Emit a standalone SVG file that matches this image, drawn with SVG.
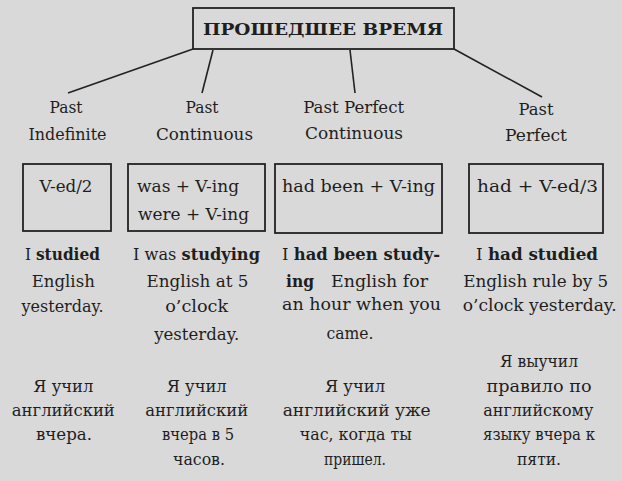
<svg xmlns="http://www.w3.org/2000/svg" width="622" height="481" viewBox="0 0 622 481" font-family="DejaVu Serif">
<style>
text{fill:#1e1e1e}
.t{font-size:17px;font-weight:bold}
.lbl{font-size:16.5px;text-anchor:middle}
.f{font-size:17px}
.b{font-size:17.5px;text-anchor:middle}
.bold{font-weight:bold}
.ru{font-size:16.5px;text-anchor:middle}
.box{fill:none;stroke:#222;stroke-width:1.8}
.con{stroke:#222;stroke-width:1.6;fill:none}
</style>
<rect width="622" height="481" fill="#d9d9d9"/>
<g id="connectors">
<line class="con" x1="193" y1="49" x2="68" y2="93"/>
<line class="con" x1="213" y1="50" x2="202" y2="93"/>
<line class="con" x1="350" y1="50" x2="355" y2="93"/>
<line class="con" x1="454" y1="49" x2="542" y2="97"/>
</g>
<g id="title" font-family="DejaVu Serif">
<rect class="box" x="193" y="8" width="261" height="41"/>
<text class="t" x="203" y="35" textLength="240" lengthAdjust="spacingAndGlyphs">ПРОШЕДШЕЕ  ВРЕМЯ</text>
</g>
<g id="past-indefinite" font-family="DejaVu Serif">
<text class="lbl" x="66" y="113" textLength="33" lengthAdjust="spacingAndGlyphs">Past</text>
<text class="lbl" x="67.5" y="140" textLength="78" lengthAdjust="spacingAndGlyphs">Indefinite</text>
<rect class="box" x="23" y="164" width="88" height="67"/>
<text class="f" x="66" y="192" text-anchor="middle" textLength="53" lengthAdjust="spacingAndGlyphs">V-ed/2</text>
<text class="b" x="62.5" y="260" textLength="75" lengthAdjust="spacingAndGlyphs">I <tspan class="bold">studied</tspan></text>
<text class="b" x="63.3" y="287" textLength="63" lengthAdjust="spacingAndGlyphs">English</text>
<text class="b" x="62.5" y="312" textLength="82" lengthAdjust="spacingAndGlyphs">yesterday.</text>
<text class="ru" x="63.3" y="392" textLength="60" lengthAdjust="spacingAndGlyphs">Я учил</text>
<text class="ru" x="63.3" y="416" textLength="103" lengthAdjust="spacingAndGlyphs">английский</text>
<text class="ru" x="64" y="440" textLength="56" lengthAdjust="spacingAndGlyphs">вчера.</text>
</g>
<g id="past-continuous" font-family="DejaVu Serif">
<text class="lbl" x="202" y="113" textLength="33" lengthAdjust="spacingAndGlyphs">Past</text>
<text class="lbl" x="204.5" y="140" textLength="97" lengthAdjust="spacingAndGlyphs">Continuous</text>
<rect class="box" x="128" y="164" width="137" height="67"/>
<text class="f" x="137" y="192" textLength="102" lengthAdjust="spacingAndGlyphs">was + V-ing</text>
<text class="f" x="138" y="220" textLength="111" lengthAdjust="spacingAndGlyphs">were + V-ing</text>
<text class="b" x="196.5" y="260" textLength="127" lengthAdjust="spacingAndGlyphs">I was <tspan class="bold">studying</tspan></text>
<text class="b" x="197.5" y="287" textLength="102" lengthAdjust="spacingAndGlyphs">English at 5</text>
<text class="b" x="196.7" y="312" textLength="63" lengthAdjust="spacingAndGlyphs">o’clock</text>
<text class="b" x="196.7" y="340" textLength="85" lengthAdjust="spacingAndGlyphs">yesterday.</text>
<text class="ru" x="196.7" y="392" textLength="60" lengthAdjust="spacingAndGlyphs">Я учил</text>
<text class="ru" x="196.7" y="416" textLength="103" lengthAdjust="spacingAndGlyphs">английский</text>
<text class="ru" x="198" y="440" textLength="72" lengthAdjust="spacingAndGlyphs">вчера в 5</text>
<text class="ru" x="199" y="465" textLength="52" lengthAdjust="spacingAndGlyphs">часов.</text>
</g>
<g id="past-perfect-continuous" font-family="DejaVu Serif">
<text class="lbl" x="353.7" y="113" textLength="101" lengthAdjust="spacingAndGlyphs">Past Perfect</text>
<text class="lbl" x="354" y="139" textLength="98" lengthAdjust="spacingAndGlyphs">Continuous</text>
<rect class="box" x="275" y="164" width="167" height="69"/>
<text class="f" x="282" y="192" textLength="153" lengthAdjust="spacingAndGlyphs">had been + V-ing</text>
<text class="b" x="361" y="260" textLength="158" lengthAdjust="spacingAndGlyphs">I <tspan class="bold">had been study-</tspan></text>
<text class="f bold" x="286" y="287" font-size="17.5" textLength="28" lengthAdjust="spacingAndGlyphs">ing</text>
<text class="f" x="331" y="287" font-size="17.5" textLength="97" lengthAdjust="spacingAndGlyphs">English for</text>
<text class="b" x="361.5" y="310" textLength="159" lengthAdjust="spacingAndGlyphs">an hour when you</text>
<text class="b" x="350" y="339" textLength="47" lengthAdjust="spacingAndGlyphs">came.</text>
<text class="ru" x="355" y="392" textLength="60" lengthAdjust="spacingAndGlyphs">Я учил</text>
<text class="ru" x="356.7" y="416" textLength="148" lengthAdjust="spacingAndGlyphs">английский уже</text>
<text class="ru" x="355.8" y="440" textLength="112" lengthAdjust="spacingAndGlyphs">час, когда ты</text>
<text class="ru" x="355" y="465" textLength="62" lengthAdjust="spacingAndGlyphs">пришел.</text>
</g>
<g id="past-perfect" font-family="DejaVu Serif">
<text class="lbl" x="536" y="115" textLength="35" lengthAdjust="spacingAndGlyphs">Past</text>
<text class="lbl" x="536" y="141" textLength="62" lengthAdjust="spacingAndGlyphs">Perfect</text>
<rect class="box" x="469" y="164" width="134" height="69"/>
<text class="f" x="477" y="192" textLength="121" lengthAdjust="spacingAndGlyphs">had + V-ed/3</text>
<text class="b" x="537" y="260" textLength="122" lengthAdjust="spacingAndGlyphs">I <tspan class="bold">had studied</tspan></text>
<text class="b" x="535.8" y="287" textLength="145" lengthAdjust="spacingAndGlyphs">English rule by 5</text>
<text class="b" x="539.7" y="311" textLength="154" lengthAdjust="spacingAndGlyphs">o’clock yesterday.</text>
<text class="ru" x="539" y="367" textLength="78" lengthAdjust="spacingAndGlyphs">Я выучил</text>
<text class="ru" x="539" y="392" textLength="105" lengthAdjust="spacingAndGlyphs">правило по</text>
<text class="ru" x="538.3" y="416" textLength="110" lengthAdjust="spacingAndGlyphs">английскому</text>
<text class="ru" x="539" y="440" textLength="112" lengthAdjust="spacingAndGlyphs">языку вчера к</text>
<text class="ru" x="539" y="465" textLength="44" lengthAdjust="spacingAndGlyphs">пяти.</text>
</g>
</svg>
